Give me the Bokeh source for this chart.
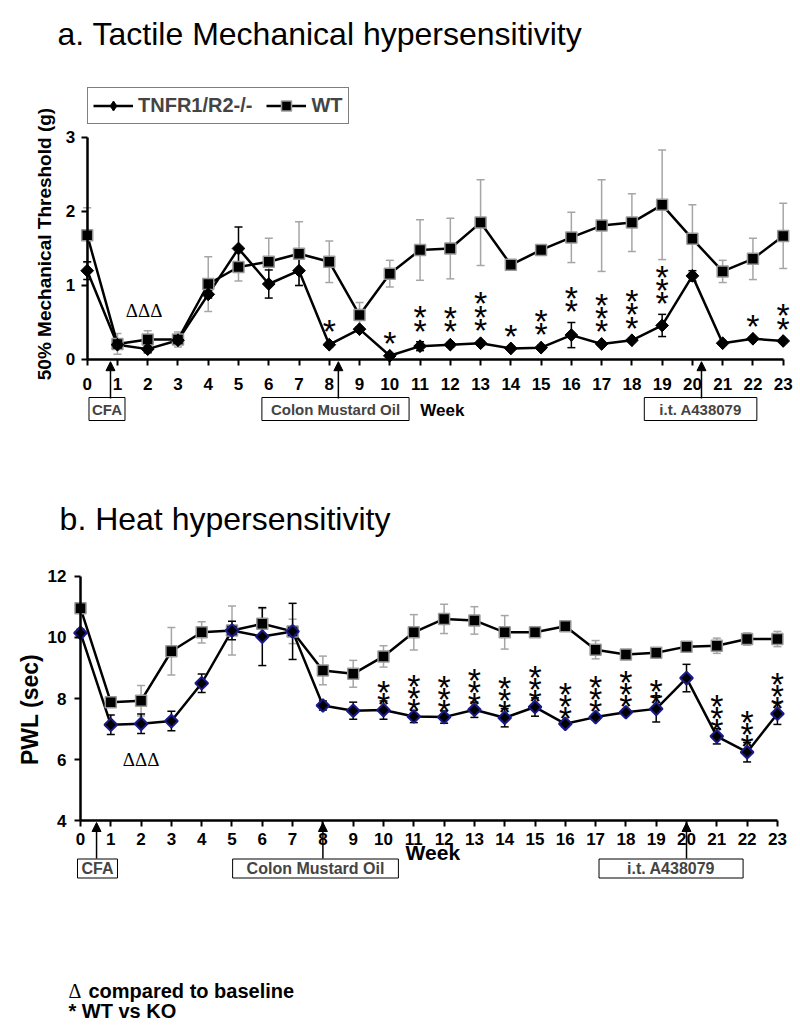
import math
from bokeh.plotting import figure
from bokeh.models import (Range1d, FixedTicker, ColumnDataSource, Whisker, TeeHead,
                          Label, Arrow, NormalHead, Legend, LegendItem)
from bokeh.layouts import column
from bokeh.core.properties import value
from bokeh.embed import file_html
from bokeh.resources import INLINE

# ---------------- data ----------------
weeks = list(range(24))

# a. Tactile mechanical threshold (g)
ko_mech = [1.20, 0.20, 0.14, 0.26, 0.88, 1.50, 1.02, 1.20, 0.20, 0.41, 0.05, 0.18,
           0.20, 0.22, 0.15, 0.16, 0.33, 0.21, 0.26, 0.46, 1.13, 0.22, 0.28, 0.25]
ko_mech_err = [0.12, 0.05, 0.05, 0.05, 0.05, 0.29, 0.19, 0.20, 0.03, 0.03, 0.02, 0.06,
               0.03, 0.03, 0.02, 0.03, 0.17, 0.02, 0.02, 0.15, 0.07, 0.02, 0.02, 0.02]
wt_mech = [1.68, 0.21, 0.27, 0.27, 1.02, 1.25, 1.32, 1.43, 1.32, 0.60, 1.16, 1.48,
           1.50, 1.85, 1.28, 1.48, 1.65, 1.81, 1.85, 2.09, 1.63, 1.19, 1.36, 1.67]
wt_mech_err = [0.37, 0.14, 0.12, 0.10, 0.37, 0.19, 0.32, 0.43, 0.28, 0.17, 0.18, 0.41,
               0.41, 0.58, 0.05, 0.05, 0.34, 0.62, 0.39, 0.74, 0.46, 0.15, 0.28, 0.44]
mech_stars = [0, 0, 0, 0, 0, 0, 0, 0, 1, 0, 1, 2, 2, 3, 1, 2, 2, 3, 3, 3, 0, 0, 1, 2]

# b. Heat PWL (sec)
ko_heat = [10.15, 7.14, 7.17, 7.26, 8.50, 10.23, 10.03, 10.20, 7.77, 7.60, 7.62, 7.41,
           7.39, 7.63, 7.37, 7.72, 7.17, 7.39, 7.55, 7.66, 8.67, 6.76, 6.24, 7.50]
ko_heat_err = [0.12, 0.32, 0.32, 0.32, 0.30, 0.30, 0.95, 0.92, 0.15, 0.28, 0.30, 0.20,
               0.20, 0.25, 0.30, 0.30, 0.10, 0.10, 0.10, 0.43, 0.45, 0.25, 0.32, 0.35]
wt_heat = [10.96, 7.88, 7.93, 9.55, 10.17, 10.23, 10.45, 10.20, 8.92, 8.81, 9.38, 10.17,
           10.61, 10.56, 10.17, 10.17, 10.37, 9.60, 9.44, 9.50, 9.70, 9.73, 9.95, 9.95]
wt_heat_err = [0.15, 0.10, 0.50, 0.78, 0.35, 0.80, 0.50, 0.40, 0.47, 0.44, 0.35, 0.58,
               0.48, 0.45, 0.55, 0.05, 0.05, 0.30, 0.10, 0.10, 0.10, 0.25, 0.20, 0.25]
heat_stars = [0, 0, 0, 0, 0, 0, 0, 0, 0, 0, 2, 3, 3, 3, 3, 3, 3, 3, 3, 2, 0, 3, 3, 3]

events = ["CFA", "Colon Mustard Oil", "i.t. A438079"]
event_weeks_a = [0.77, 8.3, 20.3]
event_weeks_b = [0.53, 8.0, 20.0]

FONT = "Liberation Sans"
SERIF = "Liberation Serif"
STAR_SIZE = 34
STAR_RISE = 3


def make_fig(height, xr, yr, xbase, ybounds, yticks):
    p = figure(width=800, height=height, output_backend="svg", toolbar_location=None,
               x_range=Range1d(*xr), y_range=Range1d(*yr), min_border=0)
    p.grid.visible = False
    p.outline_line_color = None
    for ax in (p.xaxis, p.yaxis):
        ax.axis_line_width = 2.5
        ax.axis_line_color = "black"
        ax.major_tick_line_width = 2
        ax.major_tick_out = 6
        ax.major_tick_in = 0
        ax.minor_tick_line_color = None
        ax.major_label_text_font = FONT
        ax.major_label_text_font_style = "bold"
        ax.major_label_text_font_size = "17px"
        ax.major_label_text_color = "black"
    p.xaxis.ticker = FixedTicker(ticks=weeks)
    p.xaxis.bounds = (0, 23)
    p.xaxis.fixed_location = xbase
    p.yaxis.ticker = FixedTicker(ticks=yticks)
    p.yaxis.bounds = ybounds
    p.yaxis.fixed_location = 0
    return p


def draw_series(p, vals, errs, color_err, line_color="black"):
    src = ColumnDataSource(dict(x=weeks, y=vals,
                                upper=[v + e for v, e in zip(vals, errs)],
                                lower=[v - e for v, e in zip(vals, errs)]))
    w = Whisker(source=src, base="x", upper="upper", lower="lower", dimension="height",
                line_color=color_err, line_width=1.5, level="underlay",
                upper_head=TeeHead(size=8, line_color=color_err, line_width=1.5),
                lower_head=TeeHead(size=8, line_color=color_err, line_width=1.5))
    p.add_layout(w)
    return p.line("x", "y", source=src, line_color=line_color, line_width=2.5)


def stars(p, vals, errs, counts, use_err, gap, step):
    xs, ys, offs = [], [], []
    for w, v, e, n in zip(weeks, vals, errs, counts):
        base = v + e if use_err else v
        for k in range(n):
            xs.append(w)
            ys.append(base)
            offs.append(STAR_RISE - (gap + k * step))
    src = ColumnDataSource(dict(x=xs, y=ys, t=["*"] * len(xs), off=offs))
    p.text("x", "y", text="t", y_offset="off", source=src, text_font=value(FONT),
           text_font_size=f"{STAR_SIZE}px", text_align="center",
           text_baseline="alphabetic", text_color="black")


def box(p, text, x, y, size, padx, pady):
    p.add_layout(Label(x=x, y=y, text=text, text_font=FONT, text_font_style="bold",
                       text_font_size=size, text_align="center", text_baseline="middle",
                       border_line_color="black", border_line_width=1,
                       background_fill_color="white",
                       padding=dict(left=padx, right=padx, top=pady, bottom=pady)))


def arrow(p, x, y0, y1):
    p.add_layout(Arrow(end=NormalHead(size=9, fill_color="black", line_color="black"),
                       x_start=x, y_start=y0, x_end=x, y_end=y1,
                       line_color="black", line_width=1.5))


def label(p, x, y, text, size, bold=True, font=FONT, align="left", baseline="alphabetic",
          angle=0.0):
    p.add_layout(Label(x=x, y=y, text=text, text_font=font,
                       text_font_style="bold" if bold else "normal",
                       text_font_size=size, text_align=align, text_baseline=baseline,
                       angle=angle, text_color="black"))


# ---------------- figure a ----------------
p1 = make_fig(436, (-2.865, 23.572), (-1.0405, 4.851), 0, (0, 3), [0, 1, 2, 3])
p1.xaxis.major_label_standoff = 13
p1.yaxis.major_label_standoff = 6

wt_line1 = draw_series(p1, wt_mech, wt_mech_err, "#a6a6a6")
ko_line1 = draw_series(p1, ko_mech, ko_mech_err, "black")
wt_pts1 = p1.scatter(weeks, wt_mech, marker="square", size=11, fill_color="black",
                     line_color="#999999", line_width=1.5)
# diamond version of the KO points (covered by the rhombus markers; used as legend swatch)
ko_swatch = p1.scatter(weeks, ko_mech, marker="diamond", size=12, fill_color="black",
                       line_color="black", line_width=1)
p1.scatter(weeks, ko_mech, marker="square", angle=math.pi / 4, size=9,
           fill_color="black", line_color="black", line_width=1)
stars(p1, ko_mech, ko_mech_err, mech_stars, True, 14, 13.3)

legend = Legend(items=[LegendItem(label="TNFR1/R2-/-", renderers=[ko_line1, ko_swatch]),
                       LegendItem(label="WT", renderers=[wt_line1, wt_pts1])],
                location=(87, 312), orientation="horizontal",
                border_line_color="black", border_line_width=1.5,
                background_fill_color="white",
                label_text_font=FONT, label_text_font_style="bold",
                label_text_font_size="20px", glyph_width=40, glyph_height=25,
                padding=5, spacing=14, label_standoff=5, margin=0)
p1.add_layout(legend)

label(p1, -0.98, 4.405, "a. Tactile Mechanical hypersensitivity", "32px", bold=False)
label(p1, -1.41, 1.56, "50% Mechanical Threshold (g)", "19px", align="center",
      angle=math.pi / 2)
label(p1, 1.88, 0.66, "ΔΔΔ", "19px", bold=False, font=SERIF, align="center",
      baseline="middle")
label(p1, 11.01, -0.69, "Week", "17px", baseline="middle")
for name, cx, pad in zip(events, [0.654, 8.205, 20.27], [3, 9, 15]):
    box(p1, name, cx, -0.669, "15px", pad, 3)
for ew in event_weeks_a:
    arrow(p1, ew, -0.527, -0.03)

# ---------------- figure b ----------------
p2 = make_fig(594, (-2.640, 23.762), (-2.885, 16.590), 4, (4, 12), [4, 6, 8, 10, 12])
p2.xaxis.major_label_standoff = 6
p2.yaxis.major_label_standoff = 8

draw_series(p2, wt_heat, wt_heat_err, "#a6a6a6")
draw_series(p2, ko_heat, ko_heat_err, "black")
p2.scatter(weeks, wt_heat, marker="square", size=11, fill_color="black",
           line_color="#999999", line_width=1.5)
p2.scatter(weeks, ko_heat, marker="square", angle=math.pi / 4, size=9,
           fill_color="black", line_color="#1a1a8c", line_width=2)
stars(p2, ko_heat, ko_heat_err, heat_stars, False, 9, 12)

label(p2, -0.69, 13.90, "b. Heat hypersensitivity", "32px", bold=False)
label(p2, -1.68, 7.64, "PWL (sec)", "23px", align="center", angle=math.pi / 2)
label(p2, 2.0, 6.0, "ΔΔΔ", "19px", bold=False, font=SERIF, align="center",
      baseline="middle")
label(p2, 10.73, 2.95, "Week", "21px", baseline="middle")
for name, cx, pad in zip(events, [0.561, 7.756, 19.49], [4, 14, 28]):
    box(p2, name, cx, 2.426, "16px", pad, 1)
for ew in event_weeks_b:
    arrow(p2, ew, 2.754, 3.934)

label(p2, -0.396, -1.574, "Δ", "20px", bold=False, font=SERIF)
label(p2, 0.264, -1.574, "compared  to baseline", "20px")
label(p2, -0.396, -2.262, "* WT vs KO", "20px")

layout = column(p1, p2)
open("out.html", "w").write(file_html(layout, INLINE))
